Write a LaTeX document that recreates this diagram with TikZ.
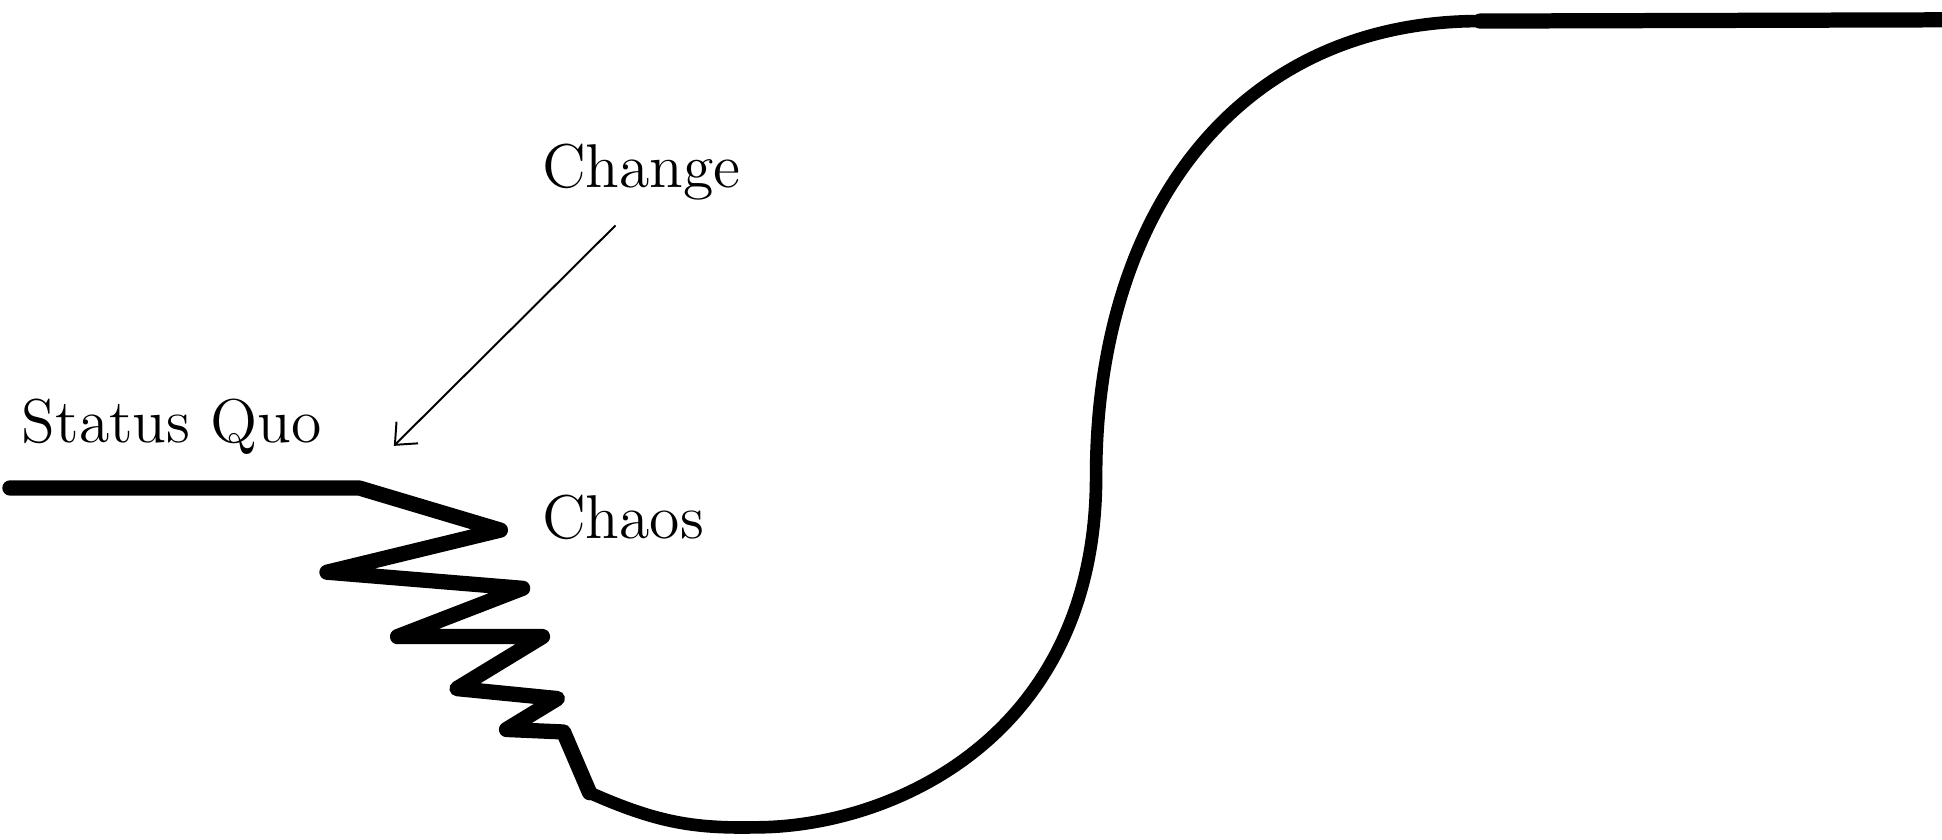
\documentclass[tikz,border=0pt]{standalone}
\usetikzlibrary{arrows.meta}
\begin{document}
\begin{tikzpicture}[x=0.01cm,y=-0.01cm,
  lbl/.style={anchor=base west,inner sep=0pt,font=\fontsize{14.2}{17}\selectfont},
  curvebold/.style={line width=3.5pt,line cap=round,line join=round},
  curvethin/.style={line width=2.9pt,line cap=round,line join=round},
  pointer/.style={line width=0.45pt,-{Straight Barb[length=4pt,width=7pt]}}]
\useasboundingbox (0,0) rectangle (1568,678);
% labels
\node[lbl] (change) at (437,151) {Change};
\node[lbl] (sq) at (17,357) {Status Quo};
\node[lbl] (chaos) at (437,435) {Chaos};
% arrow
\coordinate (a1) at (497,182);
\coordinate (a2) at (318,360);
\draw[pointer] (a1) -- (a2);
% status quo line and chaos zigzag
\draw[curvebold] (8,394) -- (290,394) -- (404,428) -- (264,462) -- (422,475)
  -- (321,514) -- (438,514) -- (369,556) -- (450,564) -- (409,589) -- (455,591) -- (476,640);
% S curve
\coordinate (b0) at (476,640);
\coordinate (b1) at (610,668);
\coordinate (m) at (885,385);
\coordinate (t0) at (1195,17);
\draw[curvethin] (b0) .. controls (530,664) and (560,669) .. (b1)
  .. controls (720,668) and (885,595) .. (m)
  .. controls (885,170) and (1000,17) .. (t0);
% top flat
\draw[curvebold] (t0) -- (1568,16);
\end{tikzpicture}
\end{document}
